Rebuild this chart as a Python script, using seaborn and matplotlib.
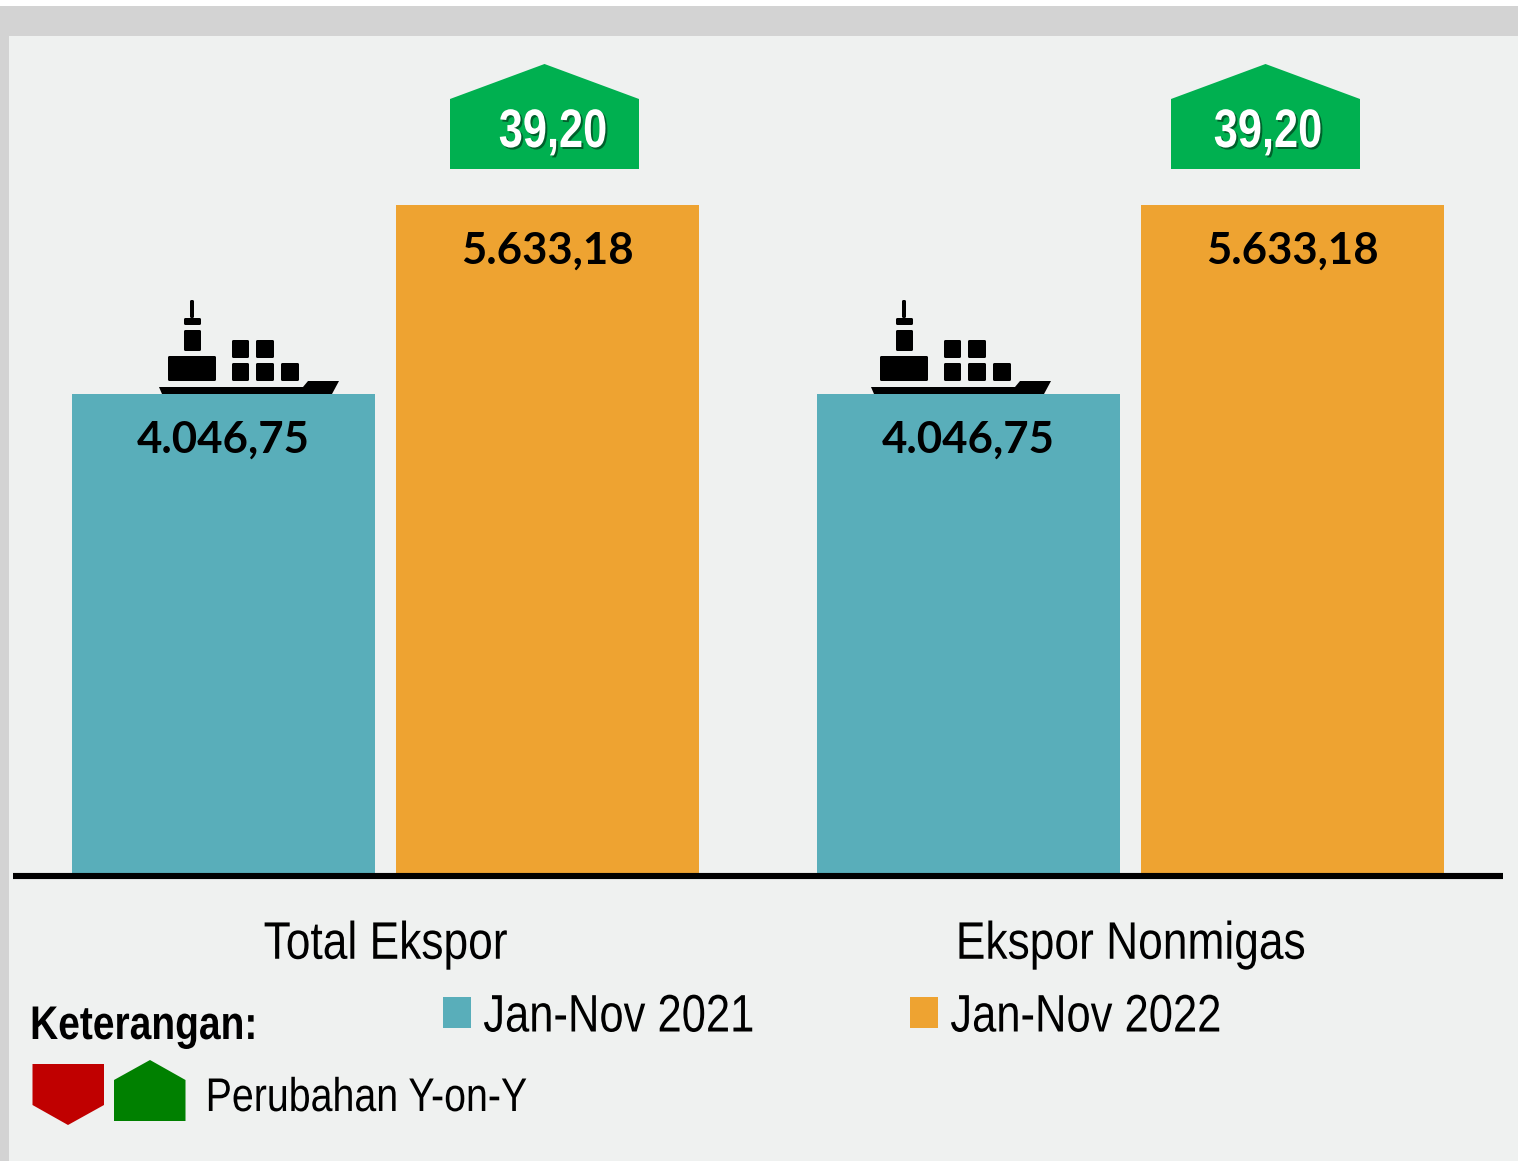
#Export bars, Jan-Nov 2021 vs Jan-Nov 2022
import seaborn as sns
import matplotlib.pyplot as plt
import matplotlib.patheffects as pe
from matplotlib.patches import Polygon, Rectangle, FancyBboxPatch
from matplotlib.transforms import Affine2D
import pandas as pd

#Data
categories = ['Total Ekspor', 'Ekspor Nonmigas']
periods = ['Jan-Nov 2021', 'Jan-Nov 2022']
values_2021 = [4046.75, 4046.75]
values_2022 = [5633.18, 5633.18]
labels_2021 = ['4.046,75', '4.046,75']
labels_2022 = ['5.633,18', '5.633,18']
changes = ['39,20', '39,20']

W, H = 1518, 1161


#No narrow font installed, so squeeze Liberation Sans sideways when it is drawn
class Squeeze(pe.AbstractPathEffect):
    def __init__(self, sx=0.82, anchor='left', shadow=False):
        super().__init__()
        self.sx = sx
        self.anchor = anchor
        self.shadow = shadow

    def draw_path(self, renderer, gc, tpath, affine, rgbFace=None):
        bb = tpath.get_extents(affine)
        x0 = bb.x0 if self.anchor == 'left' else (bb.x0 + bb.x1) / 2
        squeezed = affine + Affine2D().translate(-x0, 0).scale(self.sx, 1).translate(x0, 0)
        if self.shadow:
            gc0 = renderer.new_gc()
            gc0.copy_properties(gc)
            gc0.set_alpha(0.45)
            renderer.draw_path(gc0, tpath, squeezed + Affine2D().translate(2, -2), (0, 0, 0))
            gc0.restore()
        renderer.draw_path(gc, tpath, squeezed, rgbFace)


data = pd.DataFrame({
    'kategori': categories * 2,
    'periode': [periods[0]] * 2 + [periods[1]] * 2,
    'nilai': values_2021 + values_2022,
})

sns.set_theme(style='white')
plt.rcParams['font.family'] = ['Liberation Sans', 'DejaVu Sans']
plt.rcParams['text.color'] = 'black'

fig = plt.figure(figsize=(W / 100, H / 100), dpi=100, facecolor='#d3d3d3')

#Page background (all in pixels, y going down)
bg = fig.add_axes([0, 0, 1, 1], zorder=0)
bg.set_xlim(0, W)
bg.set_ylim(H, 0)
bg.axis('off')
bg.add_patch(Rectangle((0, 0), W, 6, fc='white', ec='none'))
bg.add_patch(Rectangle((9, 36), W - 9, H - 36, fc='#eff1f0', ec='none'))

#Bars
ax = fig.add_axes([13 / W, 1 - 876 / H, 1490 / W, 840 / H], zorder=1)
ax.patch.set_alpha(0)
sns.barplot(data=data, x='kategori', y='nilai', hue='periode', order=categories,
            hue_order=periods, palette=['#59aeba', '#eea331'], width=0.87, gap=0.065,
            saturation=1, errorbar=None, linewidth=0, ax=ax)
ax.set_xlim(-0.5, 1.5)
ax.set_ylim(0, 7052)
ax.set_xlabel('')
ax.set_ylabel('')
ax.set_yticks([])
ax.tick_params(axis='x', length=0, pad=31.5, labelsize=38, labelcolor='black')
for tick in ax.get_xticklabels():
    tick.set_path_effects([Squeeze(0.84, 'center')])
for side in ['top', 'left', 'right']:
    ax.spines[side].set_visible(False)
ax.spines['bottom'].set_color('black')
ax.spines['bottom'].set_linewidth(4.4)
ax.spines['bottom'].set_capstyle('butt')

ax.bar_label(ax.containers[0], labels=labels_2021, padding=-47, fontsize=31.5,
             fontfamily='Lato', fontweight='bold', color='black')
ax.bar_label(ax.containers[1], labels=labels_2022, padding=-47, fontsize=31.5,
             fontfamily='Lato', fontweight='bold', color='black')

sns.move_legend(ax, 'upper left', bbox_to_anchor=(443 / W, 1 - 992.5 / H),
                bbox_transform=fig.transFigure, ncol=2, title=None, frameon=False,
                fontsize=38, handlelength=0.53, handleheight=0.53, handletextpad=0.23,
                columnspacing=1.87, borderpad=0, borderaxespad=0)
for label in ax.get_legend().get_texts():
    label.set_color('black')
    label.set_path_effects([Squeeze(0.825)])

#Decorations on top
top = fig.add_axes([0, 0, 1, 1], zorder=2)
top.set_xlim(0, W)
top.set_ylim(H, 0)
top.axis('off')
top.patch.set_alpha(0)


def ship(dx):
    for x0, x1, y0, y1 in [(184, 201, 330, 351), (168, 216, 356, 381), (232, 249, 340, 358),
                           (256, 274, 340, 358), (232, 249, 363, 381), (256, 274, 363, 381),
                           (281, 299, 363, 381), (184, 201, 318, 325), (190, 194, 300, 318)]:
        top.add_patch(FancyBboxPatch((x0 + dx + 1, y0 + 1), x1 - x0 - 2, y1 - y0 - 2,
                                     boxstyle='round,pad=1,rounding_size=1.5', fc='black', ec='none'))
    hull = [(159, 387), (303, 387), (308, 381), (339, 381), (332, 394), (162, 394)]
    top.add_patch(Polygon([(x + dx, y) for x, y in hull], fc='black', ec='none'))


ship(0)
ship(712)

#Change badges
for left, text_x, change in zip([450, 1171], [553, 1268], changes):
    top.add_patch(Polygon([(left, 169), (left, 99), (left + 94.5, 64), (left + 189, 99), (left + 189, 169)],
                          fc='#00b050', ec='none'))
    top.text(text_x, 133, change, color='white', fontsize=39, fontweight='bold', ha='center', va='center',
             path_effects=[Squeeze(0.8, 'center', shadow=True)])

#Key
top.text(29.5, 1027, 'Keterangan:', fontsize=34, fontweight='bold', color='black', ha='left', va='center',
         path_effects=[Squeeze(0.825)])
top.add_patch(Polygon([(32.5, 1064), (104, 1064), (104, 1105), (68, 1125), (32.5, 1105)], fc='#c00000', ec='none'))
top.add_patch(Polygon([(114, 1121), (114, 1080), (150, 1060), (185.5, 1080), (185.5, 1121)], fc='#008000', ec='none'))
top.text(205, 1099, 'Perubahan Y-on-Y', fontsize=34, color='black', ha='left', va='center',
         path_effects=[Squeeze(0.833)])

fig.savefig('out.png', dpi=100, facecolor=fig.get_facecolor())
